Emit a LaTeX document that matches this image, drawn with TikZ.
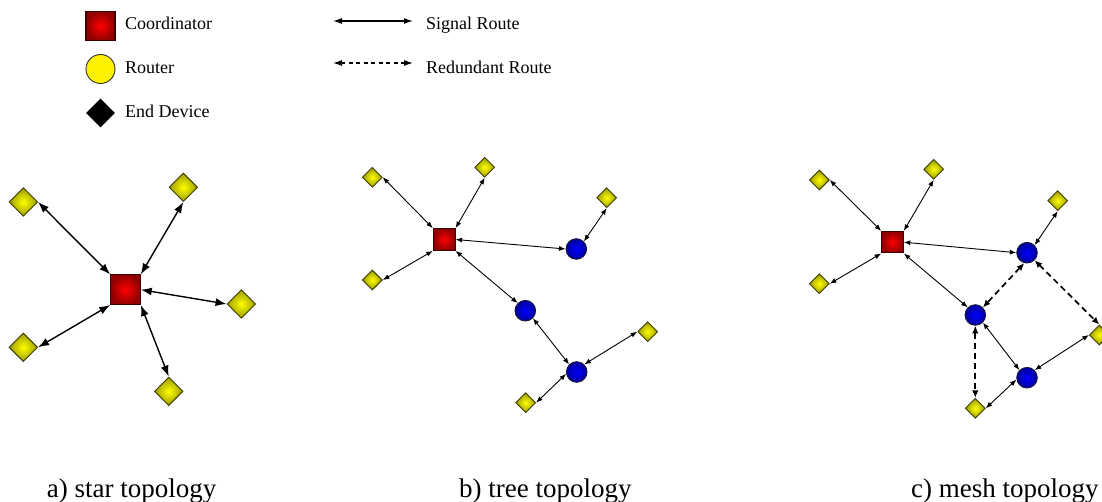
\documentclass[tikz,border=0pt]{standalone}
\usepackage{fontspec}
\setmainfont{Liberation Serif}
\usetikzlibrary{shapes.geometric,arrows.meta}
\definecolor{coordedge}{HTML}{900000}
\definecolor{coordborder}{HTML}{3A0000}
\definecolor{devcenter}{HTML}{FFFF00}
\definecolor{devedge}{HTML}{9A9A00}
\definecolor{devborder}{HTML}{3D3D00}
\definecolor{routcenter}{HTML}{0000FF}
\definecolor{routedge}{HTML}{00009A}
\definecolor{routborder}{HTML}{1A1A3A}
\tikzset{
  coordbox/.style={rectangle, inner sep=0pt, minimum size=#1, draw=coordborder, line width=1.1pt, inner color=red, outer color=coordedge},
  enddev/.style={diamond, aspect=1, inner sep=0pt, minimum size=#1, draw=devborder, line width=0.9pt, inner color=devcenter, outer color=devedge},
  routernode/.style={circle, inner sep=0pt, minimum size=#1, draw=routborder, line width=0.9pt, inner color=routcenter, outer color=routedge},
  legtext/.style={anchor=base west, inner sep=0pt, font=\fontsize{18}{20}\selectfont},
  captext/.style={anchor=base west, inner sep=0pt, font=\fontsize{27}{30}\selectfont},
  bigarrow/.style={line width=1.4pt, <->, >={Latex[length=11pt,width=8pt]}},
  smallarrow/.style={line width=0.9pt, <->, >={Latex[length=6.5pt,width=5pt]}},
  dasharrow/.style={line width=1.7pt, dash pattern=on 6pt off 4pt, <->, >={Latex[length=7.5pt,width=6.5pt]}},
  legarrow/.style={line width=1.2pt, <->, >={Latex[length=9pt,width=6pt]}},
  legdash/.style={line width=1.2pt, dash pattern=on 4pt off 3.5pt, <->, >={Latex[length=9pt,width=6pt]}},
}
\begin{document}
\begin{tikzpicture}[x=1pt,y=-1pt]
\useasboundingbox (0,0) rectangle (1102,502);
\fill[white] (0,0) rectangle (1102,502);

% ---------- legend ----------
\node[coordbox=29pt] (lc) at (100.5,26) {};
\node[circle, inner sep=0pt, minimum size=29pt, draw=black!80, line width=0.9pt, fill=yellow] (lr) at (100.5,69) {};
\node[diamond, aspect=1, inner sep=0pt, minimum size=29pt, fill=black] (ld) at (100.5,113) {};
\node[legtext] (lct) at (125,30) {Coordinator};
\node[legtext] (lrt) at (125,74) {Router};
\node[legtext] (ldt) at (125,118) {End Device};
\coordinate (sa1) at (333,21);
\coordinate (sa2) at (413,21);
\coordinate (ra1) at (333,63);
\coordinate (ra2) at (413,63);
\draw[legarrow] (sa1) -- (sa2);
\draw[legdash] (ra1) -- (ra2);
\node[legtext] (sat) at (426,30) {Signal Route};
\node[legtext] (rat) at (426,74) {Redundant Route};

% ---------- a) star ----------
\node[coordbox=29.5pt] (ac) at (125.5,289.7) {};
\node[enddev=28.6pt] (ad1) at (23.3,202) {};
\node[enddev=28.6pt] (ad2) at (183.3,187.3) {};
\node[enddev=28.6pt] (ad3) at (241.3,304) {};
\node[enddev=28.6pt] (ad4) at (23.3,347.3) {};
\node[enddev=28.6pt] (ad5) at (168.7,391.3) {};
\draw[bigarrow] (ad1.east) -- (ac.north west);
\draw[bigarrow] (ad2.south) -- (ac.north east);
\draw[bigarrow] (ad3.west) -- (ac.east);
\draw[bigarrow] (ad4.east) -- (ac.south west);
\draw[bigarrow] (ad5.north) -- (ac.south east);

% ---------- b) tree ----------
\node[coordbox=21.7pt] (bc) at (444.2,239.5) {};
\node[enddev=20pt] (bd1) at (372.3,177.3) {};
\node[enddev=20pt] (bd2) at (484.7,167.3) {};
\node[enddev=20pt] (bd3) at (606.7,197.7) {};
\node[enddev=20pt] (bd4) at (372.3,280) {};
\node[enddev=20pt] (bd5) at (647.7,331.7) {};
\node[enddev=20pt] (bd6) at (525.7,402.7) {};
\node[routernode=20.6pt] (br1) at (576.3,249) {};
\node[routernode=20.6pt] (br2) at (525.3,310.7) {};
\node[routernode=20.6pt] (br3) at (576.7,372) {};
\draw[smallarrow] (bd1.east) -- (bc.north west);
\draw[smallarrow] (bd2.south) -- (bc.north east);
\draw[smallarrow] (bd4.east) -- (bc.south west);
\draw[smallarrow] (bc.east) -- (br1.west);
\draw[smallarrow] (bc.south east) -- (br2.north west);
\draw[smallarrow] (bd3.south) -- (br1.north east);
\draw[smallarrow] (br2.south east) -- (br3.north west);
\draw[smallarrow] (bd5.west) -- (br3.north east);
\draw[smallarrow] (bd6.east) -- (br3.190);

% ---------- c) mesh ----------
\node[coordbox=21.5pt] (cc) at (892.5,242.2) {};
\node[enddev=20pt] (cd1) at (819.3,180) {};
\node[enddev=20pt] (cd2) at (933.7,169.3) {};
\node[enddev=20pt] (cd3) at (1057.7,200.7) {};
\node[enddev=20pt] (cd4) at (819.3,283.7) {};
\node[enddev=20pt] (cd5) at (1099.3,335) {};
\node[enddev=20pt] (cd6) at (975.3,408.3) {};
\node[routernode=20.6pt] (cr1) at (1027,252.7) {};
\node[routernode=20.6pt] (cr2) at (975.3,315) {};
\node[routernode=20.6pt] (cr3) at (1027,377.7) {};
\draw[smallarrow] (cd1.east) -- (cc.north west);
\draw[smallarrow] (cd2.south) -- (cc.north east);
\draw[smallarrow] (cd4.east) -- (cc.south west);
\draw[smallarrow] (cc.east) -- (cr1.west);
\draw[smallarrow] (cc.south east) -- (cr2.north west);
\draw[smallarrow] (cd3.south) -- (cr1.north east);
\draw[smallarrow] (cr2.south east) -- (cr3.north west);
\draw[smallarrow] (cd5.west) -- (cr3.north east);
\draw[smallarrow] (cd6.east) -- (cr3.190);
\draw[dasharrow] (cr1.255) -- (cr2.north east);
\draw[dasharrow] (cr1.south east) -- (cd5.north);
\draw[dasharrow] (cr2.south) -- (cd6.north);

% ---------- captions ----------
\node[captext] (capa) at (46.7,497.3) {a) star topology};
\node[captext] (capb) at (459,497.3) {b) tree topology};
\node[captext] (capc) at (911,497.3) {c) mesh topology};
\end{tikzpicture}
\end{document}
